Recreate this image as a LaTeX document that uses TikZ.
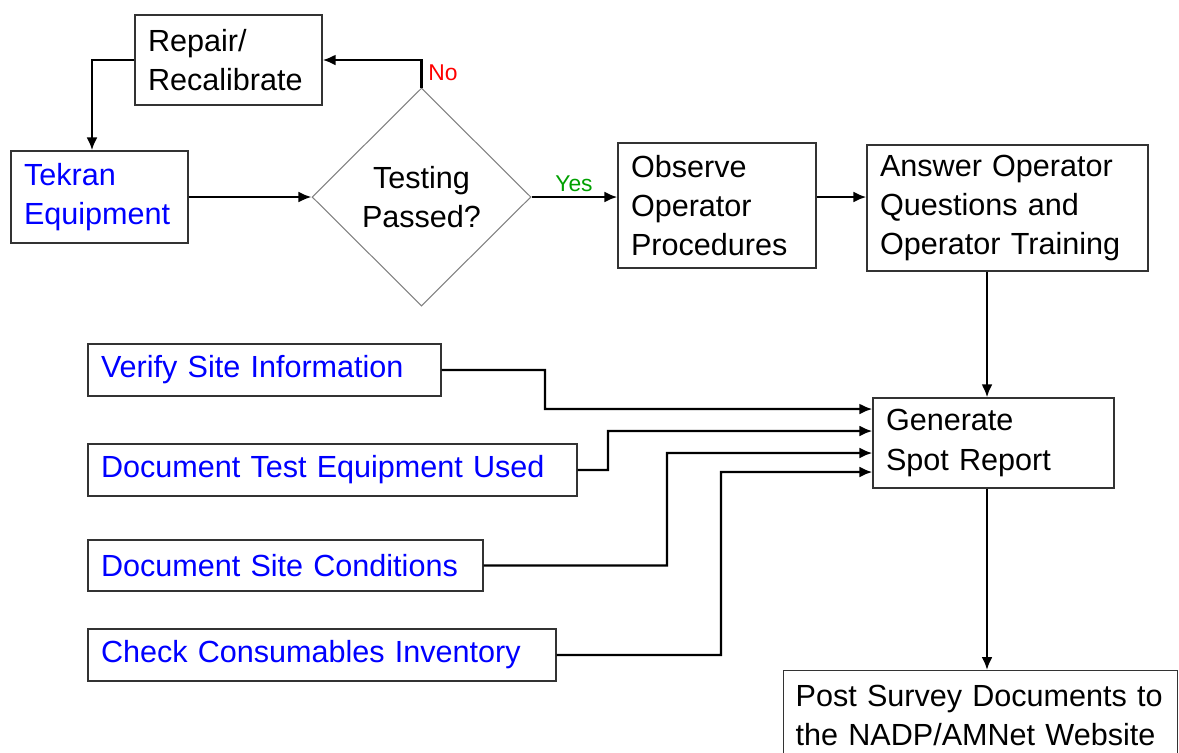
\documentclass[tikz,border=0pt]{standalone}
\usepackage{fontspec}
\setmainfont{Liberation Sans}
\usetikzlibrary{shapes.geometric,arrows.meta}
\definecolor{boxblue}{RGB}{0,0,255}
\definecolor{yesgreen}{RGB}{0,160,0}

\begin{document}
\begin{tikzpicture}[x=0.02cm,y=-0.02cm,
  font=\fontsize{17.4}{22.4}\selectfont,
  box/.style={draw=black!80,line width=0.8pt,align=left,inner xsep=0.26cm,inner ysep=0pt},
  blue box/.style={box,text=boxblue},
  arr/.style={line width=1.3pt,-{Latex[length=2.6mm,width=2.2mm]}},
  lbl/.style={font=\fontsize{13}{15}\selectfont}]
            \useasboundingbox (0,0) rectangle (1179,752);

            % top row
            \node[box,text width=3.22cm,minimum height=1.8cm] (rep) at (228.5,60) {Repair/\\Recalibrate};
            \node[blue box,text width=3.02cm,minimum height=1.84cm] (tek) at (99.5,197) {Tekran\\Equipment};
            \node[draw=gray,line width=0.6pt,diamond,aspect=1,inner sep=0pt,minimum width=4.38cm,minimum height=4.36cm,align=center] (dia) at (421.5,197) {Testing\\Passed?};
            \node[box,text width=3.44cm,minimum height=2.5cm] (obs) at (717,205.5) {Observe\\Operator\\Procedures};
            \node[box,text width=5.1cm,minimum height=2.52cm] (ans) at (1007.5,208) {Answer Operator\\Questions and\\Operator Training};
            \node[lbl,text=red] (no) at (443,73) {No};
            \node[lbl,text=yesgreen] (yes) at (574,184) {Yes};

            % report inputs
            \node[blue box,text width=6.54cm,minimum height=1.04cm] (ver) at (264.5,370) {Verify Site Information};
            \node[blue box,text width=9.26cm,minimum height=1.04cm] (dte) at (332.5,470) {Document Test Equipment Used};
            \node[blue box,text width=7.38cm,minimum height=1.02cm] (dsc) at (285.5,565.5) {Document Site Conditions};
            \node[blue box,text width=8.84cm,minimum height=1.04cm] (cci) at (322,655) {Check Consumables Inventory};
            \node[box,text width=4.3cm,minimum height=1.8cm] (gen) at (993.5,443) {Generate\\Spot Report};
            \node[box,inner xsep=0.24cm,text width=7.4cm,minimum height=1.8cm,anchor=north west] (post) at (783,670) {Post Survey Documents to\\the NADP/AMNet Website};

            \coordinate (vx) at (987,0);

            \draw[arr] (tek) -- (dia);
            \draw[arr] (dia.north) |- (rep);
            \draw[arr] (rep.west) -| ([xshift=-0.15cm]tek.north);
            \draw[arr] (dia.east) -- (dia.east -| obs.west);
            \draw[arr] (dia.east -| obs.east) -- (dia.east -| ans.west);
            \draw[arr] (ans.south -| vx) -- (gen.north -| vx);

            \draw[arr] (ver.east) -| (545,409) -- ([yshift=0.68cm]gen.west);
            \draw[arr] (dte.east) -| (608,431) -- ([yshift=0.24cm]gen.west);
            \draw[arr] (dsc.east) -| (667,453) -- ([yshift=-0.2cm]gen.west);
            \draw[arr] (cci.east) -| (721,472) -- ([yshift=-0.58cm]gen.west);
            \draw[arr] (gen.south -| vx) -- (post.north -| vx);
        \end{tikzpicture}
\end{document}
